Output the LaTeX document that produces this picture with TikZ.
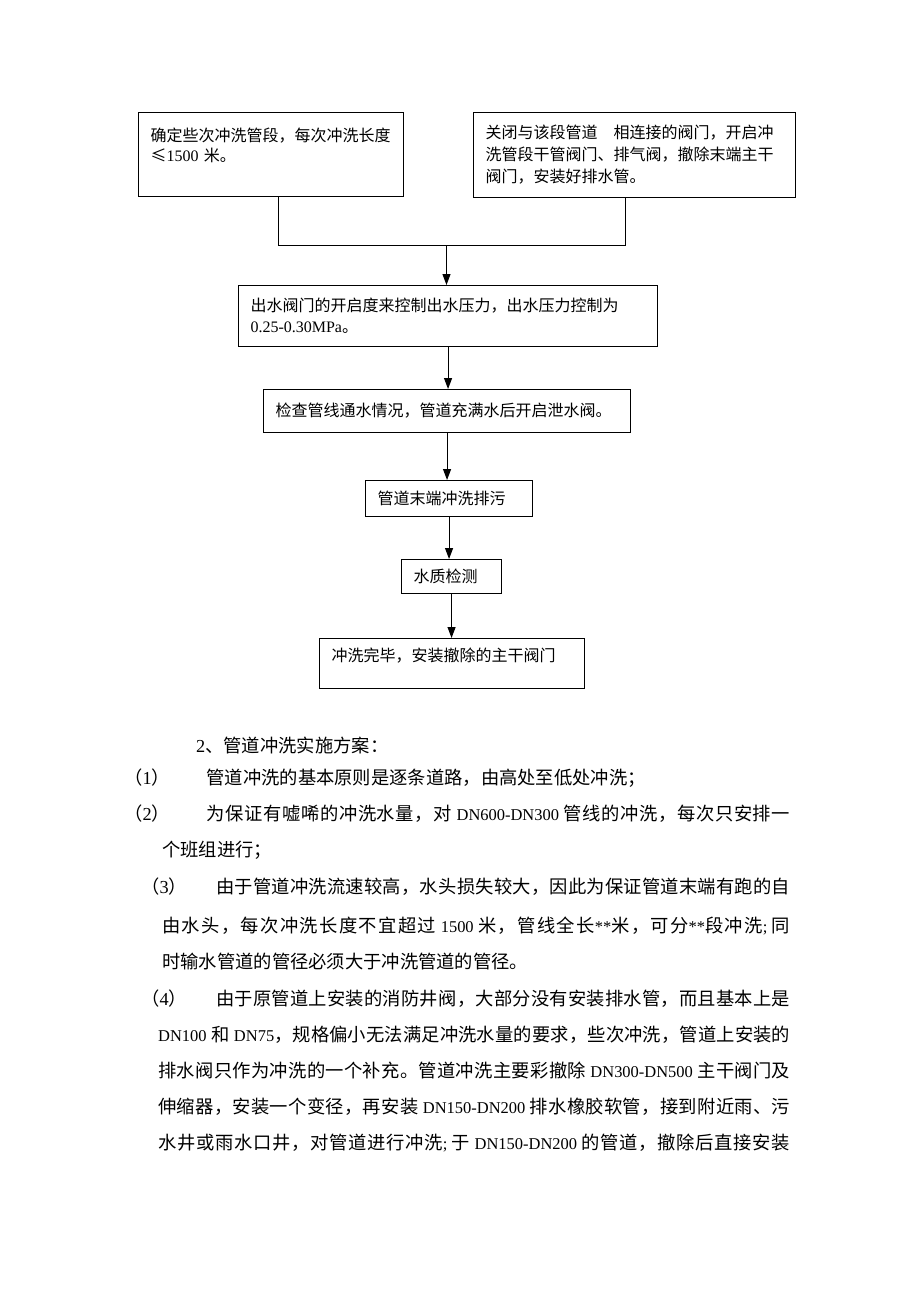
\documentclass[tikz,border=0pt]{standalone}
\usepackage{fontspec}
\setmainfont{Liberation Serif}
\newfontfamily\cjk{Noto Sans CJK SC}
\newfontfamily\latbody[Scale=0.9]{Liberation Serif}
\usepackage{tikz}
\usetikzlibrary{arrows.meta}
\tikzstyle{arrow} = [-{Triangle[width=8pt,length=11pt]}]
\tikzstyle{link} = [line width=1.1pt]
\tikzstyle{box} = [draw, line width=1.1pt, anchor=north west, align=left, inner xsep=12pt, inner ysep=3pt, font=\cjk\fontsize{16}{22}\selectfont]
\tikzstyle{para} = [anchor=base west, inner sep=0pt, font=\cjk\fontsize{18.3}{24}\selectfont]
\newcommand{\lat}[1]{{\rmfamily #1}}
\newcommand{\dn}[1]{{\latbody #1}}
\newcommand{\gap}{\hspace{4.5pt}}
\newcommand{\jline}[2]{\makebox[#1][s]{#2}}
\newcommand{\cjkglue}{\hskip0pt plus 1pt\relax}
\count255="4E00
\loop
	\XeTeXcharclass\count255=1
	\advance\count255 by 1
\ifnum\count255<"A000 \repeat
\XeTeXcharclass"3001=3
\XeTeXcharclass"3002=3
\XeTeXcharclass"FF0C=3
\XeTeXcharclass"FF1A=3
\XeTeXcharclass"FF1B=3
\XeTeXcharclass"FF09=3
\XeTeXcharclass"FF08=2
\XeTeXinterchartokenstate=1
\XeTeXinterchartoks 1 1 = {\cjkglue}
\XeTeXinterchartoks 1 3 = {\cjkglue}
\XeTeXinterchartoks 3 1 = {\cjkglue}
\XeTeXinterchartoks 2 1 = {\cjkglue}
\XeTeXinterchartoks 1 2 = {\cjkglue}
\XeTeXinterchartoks 3 2 = {\cjkglue}
\XeTeXinterchartoks 3 3 = {\cjkglue}

\begin{document}
\begin{tikzpicture}[x=1pt, y=-1pt]
		\useasboundingbox (0,0) rectangle (920,1302);

		\node (1range) [box, text width=241pt, minimum width=265pt, minimum height=84pt] at (138,112) {确定些次冲洗管段，每次冲洗长度\\[-2pt]≤\lat{1500} 米。\\[-8pt]\strut};
		\node (1close) [box, text width=298pt, minimum width=322pt, minimum height=85pt] at (473,112) {关闭与该段管道　相连接的阀门，开启冲\\洗管段干管阀门、排气阀，撤除末端主干\\阀门，安装好排水管。};
		\node (2pressure) [box, text width=395pt, minimum width=419pt, minimum height=61pt] at (238,285) {出水阀门的开启度来控制出水压力，出水压力控制为\\[-1pt]\lat{0.25-0.30MPa}。};
		\node (3check) [box, text width=343pt, minimum width=367pt, minimum height=43pt] at (263,389) {检查管线通水情况，管道充满水后开启泄水阀。};
		\node (4flush) [box, text width=143pt, minimum width=167pt, minimum height=36pt] at (365,480) {管道末端冲洗排污};
		\node (5test) [box, text width=76pt, minimum width=100pt, minimum height=34pt] at (401,559) {水质检测};
		\node (6done) [box, text width=241pt, minimum width=265pt, minimum height=50pt] at (319,638) {冲洗完毕，安装撤除的主干阀门\\[-10pt]\strut};

		\coordinate (1left) at (278.5,245.5);
		\coordinate (1right) at (625.5,245.5);
		\coordinate (1mid) at (446.5,245.5);

		\draw [link] (1left |- 1range.south) -- (1left) -- (1right) -- (1right |- 1close.south);
		\draw [link, arrow] (1mid) -- (1mid |- 2pressure.north);
		\draw [link, arrow] (2pressure.south) -- (2pressure.south |- 3check.north);
		\draw [link, arrow] (3check.south) -- (3check.south |- 4flush.north);
		\draw [link, arrow] (4flush.south) -- (4flush.south |- 5test.north);
		\draw [link, arrow] (5test.south) -- (5test.south |- 6done.north);

		\node (txt0) [para] at (196,752) {\lat{2}、管道冲洗实施方案：};
		\node (txt1) [para] at (124,784) {\makebox[4.5em][l]{（\lat{1}）}管道冲洗的基本原则是逐条道路，由高处至低处冲洗；};
		\node (txt2) [para] at (124,820) {\jline{666pt}{\makebox[4.5em][l]{（\lat{2}）}为保证有嘘唏的冲洗水量，对\gap{}\dn{DN600-DN300}\gap{}管线的冲洗，每次只安排一}};
		\node (txt3) [para] at (162,856) {个班组进行；};
		\node (txt4) [para] at (141,893) {\jline{649pt}{\makebox[4.1em][l]{（\lat{3}）}由于管道冲洗流速较高，水头损失较大，因此为保证管道末端有跑的自}};
		\node (txt5) [para] at (162,932) {\jline{628pt}{由水头，每次冲洗长度不宜超过\gap{}\dn{1500}\gap{}米，管线全长\dn{**}米，可分\dn{**}段冲洗\dn{;}\gap{}同}};
		\node (txt6) [para] at (162,968) {时输水管道的管径必须大于冲洗管道的管径。};
		\node (txt7) [para] at (141,1005) {\jline{649pt}{\makebox[4.1em][l]{（\lat{4}）}由于原管道上安装的消防井阀，大部分没有安装排水管，而且基本上是}};
		\node (txt8) [para] at (158,1041) {\jline{632pt}{\dn{DN100}\gap{}和\gap{}\dn{DN75}，规格偏小无法满足冲洗水量的要求，些次冲洗，管道上安装的}};
		\node (txt9) [para] at (158,1077) {\jline{632pt}{排水阀只作为冲洗的一个补充。管道冲洗主要彩撤除\gap{}\dn{DN300-DN500}\gap{}主干阀门及}};
		\node (txt10) [para] at (158,1113) {\jline{632pt}{伸缩器，安装一个变径，再安装\gap{}\dn{DN150-DN200}\gap{}排水橡胶软管，接到附近雨、污}};
		\node (txt11) [para] at (158,1149) {\jline{632pt}{水井或雨水口井，对管道进行冲洗\dn{;}\gap{}于\gap{}\dn{DN150-DN200}\gap{}的管道，撤除后直接安装}};
	\end{tikzpicture}
\end{document}
